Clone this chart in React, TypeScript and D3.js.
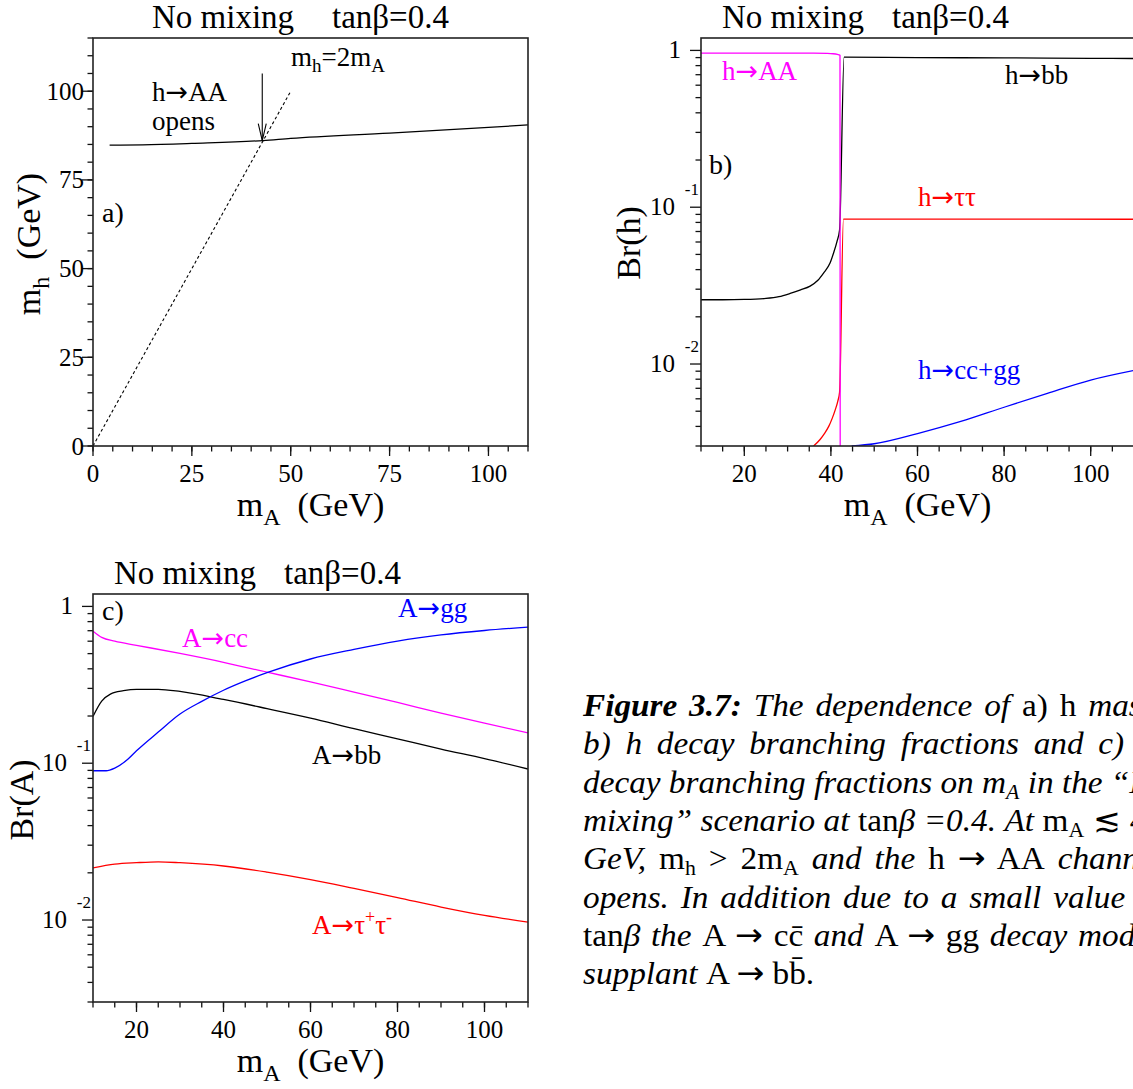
import * as d3 from "d3";
import { useLayoutEffect, useRef } from "react";

type Pt = [number, number];

// a) light Higgs mass vs m_A (GeV)
const mhVsMa: Pt[] = [[4.2, 84.8], [12.6, 84.9], [25, 85.3], [43, 86.1], [50, 86.7], [75, 88.2], [100, 89.8], [110, 90.5]];
const threshold: Pt[] = [[0, 0], [50, 100]]; // m_h = 2 m_A
const arrowMa = 42.8;
const arrowMh: [number, number] = [105, 86.1];

// b) h branching ratios
const hToAA: Pt[] = [[10, 0.962], [20, 0.962], [30, 0.961], [36, 0.96], [39, 0.957], [40.5, 0.952], [41.5, 0.942], [42.1, 0.93], [42.15, 0.0025]];
const hToBB: Pt[] = [[10, 0.0257], [15, 0.0257], [20, 0.0258], [25, 0.0262], [28, 0.0269], [30.6, 0.0282], [33, 0.0297], [35.2, 0.0314], [37, 0.0342], [38.3, 0.038], [39.8, 0.044], [40.6, 0.0509], [41.4, 0.0604], [42.0, 0.0716], [43.05, 0.905], [60, 0.9], [80, 0.896], [100, 0.891], [110, 0.888]];
const hToTauTau: Pt[] = [[36.0, 0.003], [37.5, 0.0033], [38.5, 0.0036], [39.5, 0.004], [40.3, 0.0045], [41.0, 0.0051], [41.6, 0.0058], [42.0, 0.0066], [42.9, 0.084], [60, 0.084], [80, 0.084], [110, 0.0838]];
const hToCCGG: Pt[] = [[44.8, 0.003], [50, 0.0031], [60, 0.0036], [70, 0.0043], [80, 0.0053], [90, 0.0065], [100, 0.0079], [110, 0.0091]];

// c) A branching ratios
const aToCC: Pt[] = [[10, 0.695], [12, 0.635], [15, 0.6], [20, 0.565], [30, 0.501], [40, 0.44], [50, 0.381], [60, 0.33], [70, 0.284], [80, 0.244], [90, 0.209], [100, 0.18], [110, 0.156]];
const aToGG: Pt[] = [[10, 0.0895], [13, 0.0895], [15, 0.093], [18, 0.106], [20, 0.12], [25, 0.158], [30, 0.206], [35, 0.248], [40, 0.292], [45, 0.335], [50, 0.378], [60, 0.462], [70, 0.532], [80, 0.601], [90, 0.658], [100, 0.702], [110, 0.738]];
const aToBB: Pt[] = [[10, 0.199], [12, 0.249], [14, 0.276], [17, 0.29], [20, 0.296], [25, 0.296], [30, 0.287], [40, 0.255], [50, 0.223], [60, 0.194], [70, 0.166], [80, 0.143], [90, 0.123], [100, 0.107], [110, 0.0918]];
const aToTauTau: Pt[] = [[10, 0.0215], [15, 0.0227], [20, 0.0232], [25, 0.0235], [30, 0.0232], [40, 0.0221], [50, 0.0202], [60, 0.0181], [70, 0.0159], [80, 0.0139], [90, 0.0121], [100, 0.0107], [110, 0.0097]];

const linTicksA = [0, 25, 50, 75, 100];
const massTicks = [20, 40, 60, 80, 100];
const logMajor = [0.01, 0.1, 1];
const logMinor = [3, 4, 5, 6, 7, 8, 9].map((k) => k * 0.001)
    .concat([2, 3, 4, 5, 6, 7, 8, 9].map((k) => k * 0.01))
    .concat([2, 3, 4, 5, 6, 7, 8, 9].map((k) => k * 0.1));

const serif = "'Liberation Serif', 'Times New Roman', serif";
const arrowFont = "'DejaVu Sans', sans-serif";
const MAG = "#ff00ff";
const RED = "#ff0000";
const BLUE = "#0000ff";

type Frame = { left: number; right: number; top: number; bottom: number };
const fA: Frame = { left: 93, right: 528, top: 38, bottom: 446 };
const fB: Frame = { left: 701, right: 1134, top: 38, bottom: 446 };
const fC: Frame = { left: 93, right: 528, top: 594, bottom: 1002 };

const xA = d3.scaleLinear([0, 110], [fA.left, fA.right]);
const yA = d3.scaleLinear([0, 115], [fA.bottom, fA.top]);
const xB = d3.scaleLinear([10, 110], [fB.left, fB.right]);
const yB = d3.scaleLog([0.003, 1.2], [fB.bottom, fB.top]);
const xC = d3.scaleLinear([10, 110], [fC.left, fC.right]);
const yC = d3.scaleLog([0.003, 1.2], [fC.bottom, fC.top]);

const path = (x: any, y: any, data: Pt[], smooth = true) =>
    d3.line<Pt>().x((d) => x(d[0])).y((d) => y(d[1])).curve(smooth ? d3.curveMonotoneX : d3.curveLinear)(data) ?? undefined;

// split a label on "→" so the arrow can use a font with a proper long arrow
const withArrows = (s: string) => {
    const parts = s.split("→");
    return parts.flatMap((p, i) => (i === 0 ? [p] : [<tspan key={i} fontFamily={arrowFont}>→</tspan>, p]));
};

const Ticks = ({ f, x, y, xMajor, xMinor, yMajor, yMinor }: any) => (
    <g stroke="#111" strokeWidth={1.3}>
        {xMinor.map((v: number) => <line key={"xm" + v} x1={x(v)} x2={x(v)} y1={f.bottom} y2={f.bottom + 5.5} />)}
        {xMajor.map((v: number) => <line key={"xM" + v} x1={x(v)} x2={x(v)} y1={f.bottom} y2={f.bottom + 10} />)}
        {yMinor.map((v: number) => <line key={"ym" + v} x1={f.left - 5.5} x2={f.left} y1={y(v)} y2={y(v)} />)}
        {yMajor.map((v: number) => <line key={"yM" + v} x1={f.left - 11} x2={f.left} y1={y(v)} y2={y(v)} />)}
    </g>
);

const XLabels = ({ f, x, values }: any) => (
    <g fontFamily={serif} fontSize={25} textAnchor="middle">
        {values.map((v: number) => <text key={v} x={x(v)} y={f.bottom + 36}>{v}</text>)}
    </g>
);

const LogLabels = ({ f, y }: any) => (
    <g fontFamily={serif} textAnchor="end">
        {logMajor.map((v) => {
            if (v === 1) return <text key={v} x={f.left - 20} y={y(v) + 8} fontSize={25}>1</text>;
            return (
                <g key={v}>
                    <text x={f.left - 26} y={y(v) + 8} fontSize={25}>10</text>
                    <text x={f.left - 2} y={y(v) - 12.5} fontSize={17}>{Math.round(Math.log10(v))}</text>
                </g>
            );
        })}
    </g>
);

const Title = ({ x1, x2, y }: any) => (
    <g fontFamily={serif} fontSize={33}>
        <text x={x1} y={y}>No mixing</text>
        <text x={x2} y={y}>tanβ=0.4</text>
    </g>
);

const XTitle = ({ f }: any) => (
    <text x={(f.left + f.right) / 2} y={f.bottom + 70} fontFamily={serif} fontSize={34} textAnchor="middle">
        m<tspan fontSize={24} dy={9}>A</tspan><tspan dy={-9}>{"\u00a0\u00a0(GeV)"}</tspan>
    </text>
);

type Seg = { t: string; s: "r" | "i" | "bi"; sub?: boolean };
const caption: Seg[][] = [
    [{ t: "Figure 3.7:", s: "bi" }, { t: " The dependence of ", s: "i" }, { t: "a) h ", s: "r" }, { t: "mass,", s: "i" }],
    [{ t: "b) h decay branching fractions and c) ", s: "i" }, { t: "A", s: "r" }],
    [{ t: "decay branching fractions on m", s: "i" }, { t: "A", s: "i", sub: true }, { t: " in the “No", s: "i" }],
    [{ t: "mixing” scenario at ", s: "i" }, { t: "tan", s: "r" }, { t: "β =0.4. At ", s: "i" }, { t: "m", s: "r" }, { t: "A", s: "r", sub: true }, { t: " ≲ 43", s: "r" }],
    [{ t: "GeV, ", s: "i" }, { t: "m", s: "r" }, { t: "h", s: "r", sub: true }, { t: " > 2m", s: "r" }, { t: "A", s: "r", sub: true }, { t: " and the ", s: "i" }, { t: "h → AA", s: "r" }, { t: " channel", s: "i" }],
    [{ t: "opens. In addition due to a small value of", s: "i" }],
    [{ t: "tan", s: "r" }, { t: "β the ", s: "i" }, { t: "A → cc\u0304", s: "r" }, { t: " and ", s: "i" }, { t: "A → gg", s: "r" }, { t: " decay modes", s: "i" }],
    [{ t: "supplant ", s: "i" }, { t: "A → bb\u0304.", s: "r" }],
];
const capStretch = 1.04;
const capWidth = 580;

export default function App() {
    const capRef = useRef<SVGGElement>(null);
    useLayoutEffect(() => {
        const fit = () => {
            const g = capRef.current;
            if (!g) return;
            g.querySelectorAll<SVGTextElement>("text[data-w]").forEach((t) => {
                t.style.wordSpacing = "0px";
                const natural = t.getComputedTextLength();
                const spaces = ((t.textContent || "").match(/ /g) || []).length;
                const target = Number(t.dataset.w);
                if (spaces) t.style.wordSpacing = `${Math.max(0, (target - natural) / spaces)}px`;
            });
        };
        fit();
        document.fonts?.ready.then(fit);
    }, []);

    const clip = (id: string, f: Frame) => (
        <clipPath id={id}><rect x={f.left} y={f.top} width={f.right - f.left} height={f.bottom - f.top} /></clipPath>
    );
    const tipX = xA(arrowMa);
    const tipY = yA(arrowMh[1]);

    return (
        <svg width={1133} height={1089} style={{ position: "absolute", left: 0, top: 0, background: "#fff" }}>
            <defs>
                {clip("cA", fA)}
                {clip("cB", fB)}
                {clip("cC", fC)}
            </defs>

            {/* a) */}
            <Title x1={152} x2={332} y={28} />
            <Ticks f={fA} x={xA} y={yA} xMajor={linTicksA} xMinor={d3.range(0, 111, 5)} yMajor={linTicksA} yMinor={d3.range(0, 116, 5)} />
            <XLabels f={fA} x={xA} values={linTicksA} />
            <g fontFamily={serif} fontSize={25} textAnchor="end">
                {linTicksA.map((v) => <text key={v} x={fA.left - 9} y={yA(v) + 8.5}>{v}</text>)}
            </g>
            <g clipPath="url(#cA)" fill="none" stroke="#000" strokeWidth={1.3}>
                <path d={path(xA, yA, mhVsMa)} />
                <path d={path(xA, yA, threshold, false)} strokeDasharray="3 2.5" strokeWidth={1.1} />
                <line x1={tipX} x2={tipX} y1={yA(arrowMh[0])} y2={tipY} strokeWidth={1.1} />
                <path d={`M${tipX - 4},${tipY - 17}L${tipX},${tipY}L${tipX + 4},${tipY - 17}`} strokeWidth={1.1} />
            </g>
            <rect x={fA.left} y={fA.top} width={fA.right - fA.left} height={fA.bottom - fA.top} fill="none" stroke="#222" strokeWidth={1.6} />
            <g fontFamily={serif} fontSize={27}>
                <text x={152} y={101}>{withArrows("h→AA")}</text>
                <text x={152} y={130}>opens</text>
                <text x={102} y={222} fontSize={28}>a)</text>
                <text x={291} y={66} fontSize={27}>m<tspan fontSize={19} dy={6}>h</tspan><tspan dy={-6}>=2m</tspan><tspan fontSize={19} dy={6}>A</tspan></text>
            </g>
            <XTitle f={fA} />
            <text transform="translate(40,244) rotate(-90)" fontFamily={serif} fontSize={34} textAnchor="middle">
                m<tspan fontSize={24} dy={9}>h</tspan><tspan dy={-9}>{"\u00a0\u00a0(GeV)"}</tspan>
            </text>

            {/* b) */}
            <Title x1={722} x2={892} y={28} />
            <Ticks f={fB} x={xB} y={yB} xMajor={massTicks} xMinor={d3.range(10, 111, 5)} yMajor={logMajor} yMinor={logMinor} />
            <XLabels f={fB} x={xB} values={massTicks} />
            <LogLabels f={fB} y={yB} />
            <g clipPath="url(#cB)" fill="none" strokeWidth={1.3}>
                <path d={path(xB, yB, hToBB)} stroke="#000" />
                <path d={path(xB, yB, hToTauTau)} stroke={RED} />
                <path d={path(xB, yB, hToCCGG)} stroke={BLUE} />
                <path d={path(xB, yB, hToAA)} stroke={MAG} />
            </g>
            <rect x={fB.left} y={fB.top} width={fB.right - fB.left} height={fB.bottom - fB.top} fill="none" stroke="#222" strokeWidth={1.6} />
            <g fontFamily={serif} fontSize={27}>
                <text x={722} y={80} fill={MAG}>{withArrows("h→AA")}</text>
                <text x={1005} y={84} fill="#000">{withArrows("h→bb")}</text>
                <text x={709} y={174} fontSize={28}>b)</text>
                <text x={918} y={206} fill={RED}>{withArrows("h→ττ")}</text>
                <text x={918} y={379} fill={BLUE}>{withArrows("h→cc+gg")}</text>
            </g>
            <XTitle f={fB} />
            <text transform="translate(640,243) rotate(-90)" fontFamily={serif} fontSize={34} textAnchor="middle">Br(h)</text>

            {/* c) */}
            <Title x1={114} x2={284} y={584} />
            <Ticks f={fC} x={xC} y={yC} xMajor={massTicks} xMinor={d3.range(10, 111, 5)} yMajor={logMajor} yMinor={logMinor} />
            <XLabels f={fC} x={xC} values={massTicks} />
            <LogLabels f={fC} y={yC} />
            <g clipPath="url(#cC)" fill="none" strokeWidth={1.3}>
                <path d={path(xC, yC, aToCC)} stroke={MAG} />
                <path d={path(xC, yC, aToBB)} stroke="#000" />
                <path d={path(xC, yC, aToGG)} stroke={BLUE} />
                <path d={path(xC, yC, aToTauTau)} stroke={RED} />
            </g>
            <rect x={fC.left} y={fC.top} width={fC.right - fC.left} height={fC.bottom - fC.top} fill="none" stroke="#222" strokeWidth={1.6} />
            <g fontFamily={serif} fontSize={27}>
                <text x={102} y={620} fontSize={28}>c)</text>
                <text x={398} y={617} fill={BLUE}>{withArrows("A→gg")}</text>
                <text x={182} y={647} fill={MAG}>{withArrows("A→cc")}</text>
                <text x={312} y={764} fill="#000">{withArrows("A→bb")}</text>
                <text x={312} y={934} fill={RED}>{withArrows("A→τ")}<tspan fontSize={18} dy={-11}>+</tspan><tspan dy={11}>τ</tspan><tspan fontSize={18} dy={-11}>-</tspan></text>
            </g>
            <XTitle f={fC} />
            <text transform="translate(33,800) rotate(-90)" fontFamily={serif} fontSize={34} textAnchor="middle">Br(A)</text>

            {/* caption */}
            <g ref={capRef} fontFamily={serif} fontSize={32}>
                {caption.map((segs, i) => (
                    <text key={i} x={0} y={0} transform={`translate(583,${716 + i * 38.3}) scale(${capStretch},1)`}
                        data-w={i < 7 ? capWidth / capStretch : undefined}>
                        {segs.map((s, j) => (
                            <tspan key={j}
                                fontStyle={s.s === "r" ? "normal" : "italic"}
                                fontWeight={s.s === "bi" ? "bold" : "normal"}
                                fontSize={s.sub ? 21 : undefined}
                                dy={s.sub ? 6 : j > 0 && segs[j - 1].sub ? -6 : undefined}>
                                {withArrows(s.t)}
                            </tspan>
                        ))}
                    </text>
                ))}
            </g>
        </svg>
    );
}
